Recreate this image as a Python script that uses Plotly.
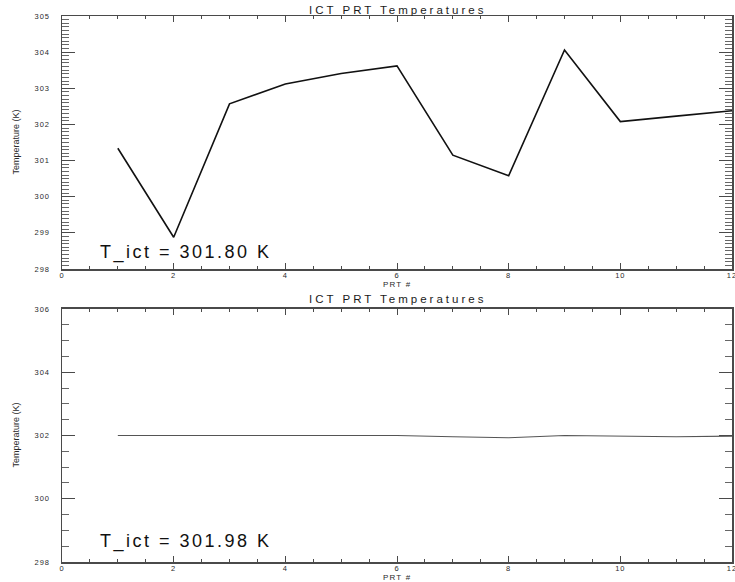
import plotly.graph_objects as go

prt = [1, 2, 3, 4, 5, 6, 7, 8, 9, 10, 11, 12]
temps_top = [301.34, 298.88, 302.57, 303.12, 303.41, 303.62, 301.15, 300.58, 304.06, 302.08, 302.23, 302.38]
temps_bottom = [302.00, 302.00, 301.99, 301.99, 301.99, 302.00, 301.96, 301.93, 302.00, 301.99, 301.96, 301.98]
title_text = "ICT PRT Temperatures"
x_title = "PRT #"
y_title = "Temperature (K)"
tict_top = "T_ict = 301.80 K"
tict_bottom = "T_ict = 301.98 K"
x_ticks = [0, 2, 4, 6, 8, 10, 12]
y_ticks_top = [298, 299, 300, 301, 302, 303, 304, 305]
y_ticks_bottom = [298, 300, 302, 304, 306]

AX = "#4a4a4a"
tickfont = dict(family="Liberation Sans, Arial", size=7.5, color="#2a2a2a")


def spaced(s, px):
    return '<span style="letter-spacing:%spx">%s</span>' % (px, s)


fig = go.Figure()
fig.add_trace(go.Scatter(x=prt, y=temps_top, mode="lines", xaxis="x", yaxis="y",
                         line=dict(color="#111111", width=1.6), hoverinfo="skip"))
fig.add_trace(go.Scatter(x=prt, y=temps_bottom, mode="lines", xaxis="x2", yaxis="y2",
                         line=dict(color="#555555", width=1.1), hoverinfo="skip"))
# invisible carriers for the mirrored (top / right) tick axes
for xa, ya, yy in (("x3", "y", temps_top), ("x", "y3", temps_top),
                   ("x4", "y2", temps_bottom), ("x2", "y4", temps_bottom)):
    fig.add_trace(go.Scatter(x=prt, y=yy, mode="lines", xaxis=xa, yaxis=ya,
                             line=dict(color="rgba(0,0,0,0)", width=0), hoverinfo="skip"))


def xax(anchor, side="bottom", overlay=None, labels=True):
    d = dict(range=[0, 12], tickvals=x_ticks, ticktext=[spaced(v, 1) for v in x_ticks],
             ticks="inside", ticklen=6, tickwidth=1, tickcolor=AX,
             minor=dict(dtick=0.5, ticks="inside", ticklen=3, tickcolor=AX, showgrid=False),
             showline=True, linecolor=AX, linewidth=1.5, showgrid=False, zeroline=False,
             tickfont=tickfont, showticklabels=labels, anchor=anchor, side=side,
             automargin=False, domain=[0, 1], fixedrange=True, ticklabelstandoff=-2,
             ticklabeloverflow="allow")
    if overlay:
        d["overlaying"] = overlay
    return d


def yax(rng, tv, mdtick, dom, anchor, side="left", overlay=None, labels=True):
    d = dict(range=rng, tickvals=tv, ticktext=[spaced(v, 1) for v in tv],
             ticks="inside", ticklen=13, tickwidth=1, tickcolor=AX,
             minor=dict(dtick=mdtick, ticks="inside", ticklen=7, tickcolor="#666666", showgrid=False),
             showline=True, linecolor=AX, linewidth=1.5, showgrid=False, zeroline=False,
             tickfont=tickfont, showticklabels=labels, anchor=anchor, side=side,
             automargin=False, ticklabelstandoff=9, fixedrange=True, ticklabeloverflow="allow")
    if overlay:
        d["overlaying"] = overlay
    else:
        d["domain"] = dom
    return d


top_dom = [0.5366, 1.0]
bot_dom = [0.0, 0.4634]

fig.update_layout(
    xaxis=xax("y"),
    xaxis2=xax("y2"),
    xaxis3=xax("y", side="top", overlay="x", labels=False),
    xaxis4=xax("y2", side="top", overlay="x2", labels=False),
    yaxis=yax([298, 305], y_ticks_top, 0.1, top_dom, "x"),
    yaxis2=yax([298, 306], y_ticks_bottom, 0.5, bot_dom, "x2"),
    yaxis3=yax([298, 305], y_ticks_top, 0.1, top_dom, "x", side="right", overlay="y", labels=False),
    yaxis4=yax([298, 306], y_ticks_bottom, 0.5, bot_dom, "x2", side="right", overlay="y2", labels=False),
)

annfont = dict(family="Liberation Sans, Arial", size=18, color="#111111")
fig.add_annotation(x=0.054, y=0.067, xref="x domain", yref="y domain", text=spaced(tict_top, 2.5),
                   showarrow=False, xanchor="left", yanchor="middle", font=annfont)
fig.add_annotation(x=0.054, y=0.08, xref="x2 domain", yref="y2 domain", text=spaced(tict_bottom, 2.5),
                   showarrow=False, xanchor="left", yanchor="middle", font=annfont)

titlefont = dict(family="Liberation Sans, Arial", size=11.5, color="#1a1a1a")
smallfont = dict(family="Liberation Sans, Arial", size=8, color="#2a2a2a")
ytfont = dict(family="Liberation Sans Narrow, Liberation Sans", size=9, color="#2a2a2a")
for xr, yr, tshift in (("x", "y", 6), ("x2", "y2", 10)):
    fig.add_annotation(x=0.5, y=1.0, xref=xr + " domain", yref=yr + " domain", text=spaced(title_text, 3),
                       showarrow=False, xanchor="center", yanchor="middle", yshift=tshift, font=titlefont)
    fig.add_annotation(x=0.5, y=0.0, xref=xr + " domain", yref=yr + " domain", text=spaced(x_title, 1.2),
                       showarrow=False, xanchor="center", yanchor="middle", yshift=-15, font=smallfont)
    fig.add_annotation(x=0.0, y=0.5, xref=xr + " domain", yref=yr + " domain", text=y_title,
                       textangle=-90, showarrow=False, xanchor="center", yanchor="middle",
                       xshift=-46, font=ytfont)

fig.update_layout(width=735, height=582, showlegend=False, hovermode=False,
                  plot_bgcolor="white", paper_bgcolor="white",
                  margin=dict(l=62, r=3, t=16, b=20))

# remove the default 8px page margin so the figure sits at the window origin
fig.write_html("out.html", config={"displayModeBar": False, "staticPlot": True},
               post_script="document.body.style.margin='0';document.body.style.overflow='hidden';")
